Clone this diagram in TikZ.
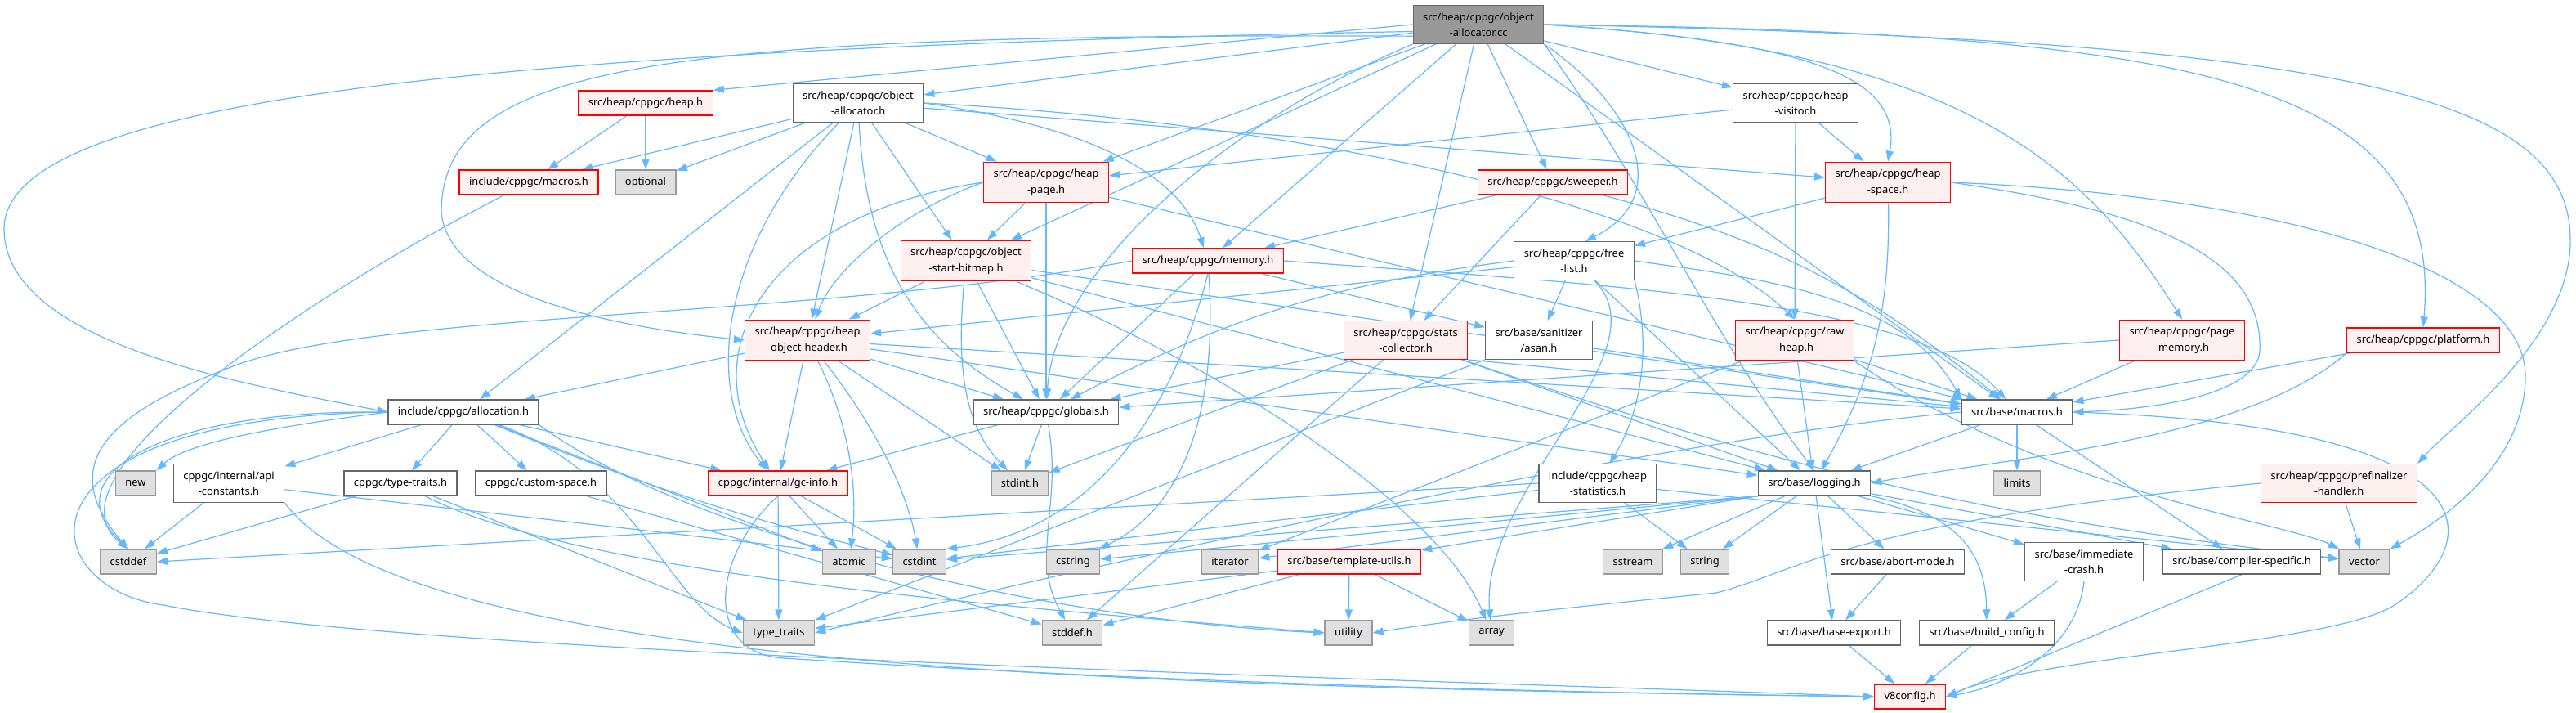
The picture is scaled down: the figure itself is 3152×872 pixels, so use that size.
\documentclass[tikz,border=0pt]{standalone}
\usepackage{fontspec}
\setmainfont{Noto Sans}
\usetikzlibrary{arrows.meta, backgrounds}
\definecolor{depblue}{RGB}{99,184,255}
\definecolor{hdrred}{RGB}{255,0,0}
\definecolor{hdrpink}{RGB}{255,240,240}
\definecolor{hdrgrey}{RGB}{153,153,153}
\definecolor{hdrdark}{RGB}{102,102,102}
\definecolor{sysfill}{RGB}{224,224,224}
\tikzset{
  file/.style={rectangle, draw=hdrdark, fill=white, line width=0.65pt,
    inner xsep=6pt, inner ysep=4.3pt, minimum height=15pt, align=center,
    font=\fontsize{6.45}{9.7}\selectfont},
  mainfile/.style={file, draw=hdrdark, fill=hdrgrey},
  redfile/.style={file, draw=hdrred, fill=hdrpink},
  sysfile/.style={file, draw=hdrgrey, fill=sysfill},
  dep/.style={-{Triangle[length=6.5pt, width=4.5pt]}, draw=depblue, line width=0.6pt}
}

\begin{document}
\begin{tikzpicture}[x=0.5pt, y=-0.5pt]
  \useasboundingbox (0,0) rectangle (3152,872);

  \node[mainfile] (cc) at (1809,30) {src/heap/cppgc/object\\-allocator.cc};
  \node[redfile] (heapH) at (790,126) {src/heap/cppgc/heap.h};
  \node[file] (objallocH) at (1050,126) {src/heap/cppgc/object\\-allocator.h};
  \node[file] (heapvisitor) at (2197,126) {src/heap/cppgc/heap\\-visitor.h};
  \node[redfile] (incmacros) at (647,223) {include/cppgc/macros.h};
  \node[sysfile] (optional) at (790,223) {optional};
  \node[redfile] (heappage) at (1280,223) {src/heap/cppgc/heap\\-page.h};
  \node[redfile] (sweeper) at (1900,223) {src/heap/cppgc/sweeper.h};
  \node[redfile] (heapspace) at (2310,223) {src/heap/cppgc/heap\\-space.h};
  \node[redfile] (osb) at (1182,319) {src/heap/cppgc/object\\-start-bitmap.h};
  \node[redfile] (memory) at (1478,319) {src/heap/cppgc/memory.h};
  \node[file] (freelist) at (1926,319) {src/heap/cppgc/free\\-list.h};
  \node[redfile] (hohdr) at (988,416) {src/heap/cppgc/heap\\-object-header.h};
  \node[redfile] (stats) at (1720,416) {src/heap/cppgc/stats\\-collector.h};
  \node[file] (asan) at (1883,416) {src/base/sanitizer\\/asan.h};
  \node[redfile] (rawheap) at (2196,416) {src/heap/cppgc/raw\\-heap.h};
  \node[redfile] (pagememory) at (2670,416) {src/heap/cppgc/page\\-memory.h};
  \node[redfile] (platform) at (2965,416) {src/heap/cppgc/platform.h};
  \node[file] (allocation) at (567,504) {include/cppgc/allocation.h};
  \node[file] (globals) at (1280,504) {src/heap/cppgc/globals.h};
  \node[file] (basemacros) at (2468,504) {src/base/macros.h};
  \node[sysfile] (new) at (166,591) {new};
  \node[file] (apiconst) at (280,591) {cppgc/internal/api\\-constants.h};
  \node[file] (cppgctraits) at (490,591) {cppgc/type-traits.h};
  \node[file] (customspace) at (662,591) {cppgc/custom-space.h};
  \node[redfile] (gcinfo) at (952,591) {cppgc/internal/gc-info.h};
  \node[sysfile] (stdint) at (1248,591) {stdint.h};
  \node[file] (heapstats) at (1955,591) {include/cppgc/heap\\-statistics.h};
  \node[file] (logging) at (2220,591) {src/base/logging.h};
  \node[sysfile] (limits) at (2468,591) {limits};
  \node[redfile] (prefinalizer) at (2862,591) {src/heap/cppgc/prefinalizer\\-handler.h};
  \node[sysfile] (cstddef) at (157,687) {cstddef};
  \node[sysfile] (atomic) at (1039,687) {atomic};
  \node[sysfile] (cstdint) at (1125,687) {cstdint};
  \node[sysfile] (cstring) at (1313,687) {cstring};
  \node[sysfile] (iterator) at (1505,687) {iterator};
  \node[redfile] (tmplutils) at (1651,687) {src/base/template-utils.h};
  \node[sysfile] (sstream) at (1998,687) {sstream};
  \node[sysfile] (string) at (2086,687) {string};
  \node[file] (abortmode) at (2322,687) {src/base/abort-mode.h};
  \node[file] (immcrash) at (2550,687) {src/base/immediate\\-crash.h};
  \node[file] (compspec) at (2743,687) {src/base/compiler-specific.h};
  \node[sysfile] (vector) at (2893,687) {vector};
  \node[sysfile] (typetraits) at (953,774) {type\_traits};
  \node[sysfile] (stddefh) at (1312,774) {stddef.h};
  \node[sysfile] (utility) at (1650,774) {utility};
  \node[sysfile] (array) at (1825,774) {array};
  \node[file] (baseexport) at (2244,774) {src/base/base-export.h};
  \node[file] (buildconfig) at (2431,774) {src/base/build\_config.h};
  \node[redfile] (v8config) at (2337,852) {v8config.h};

  \begin{scope}[on background layer]
    \fill[white] (0,0) rectangle (3152,872);
    % object-allocator.cc
    \draw[dep] (cc.west) -- (heapH.north east);
    \draw[dep] (cc) -- (objallocH);
    \draw[dep] (cc.186) .. controls (600,60) and (5,120) .. (5,280)
      .. controls (5,420) and (300,470) .. (allocation.west);
    \draw[dep] (cc.190) .. controls (800,40) and (540,80) .. (540,260)
      .. controls (550,360) and (750,400) .. (hohdr.west);
    \draw[dep] (cc) -- (heappage);
    \draw[dep] (cc) -- (osb);
    \draw[dep] (cc) -- (memory);
    \draw[dep] (cc.south west) .. controls (1500,150) and (1290,330) .. (globals);
    \draw[dep] (cc) -- (stats);
    \draw[dep] (cc) -- (sweeper);
    \draw[dep] (cc.south east) .. controls (2000,130) and (2050,240) .. (freelist.60);
    \draw[dep] (cc.south east) .. controls (2010,220) and (2100,420) .. (logging.north);
    \draw[dep] (cc) -- (heapvisitor);
    \draw[dep] (cc.east) .. controls (2200,50) and (2330,90) .. (heapspace.north);
    \draw[dep] (cc.east) .. controls (2400,60) and (2550,200) .. (pagememory.north);
    \draw[dep] (cc.east) .. controls (2700,40) and (2990,100) .. (platform.north);
    \draw[dep] (cc.east) .. controls (2900,50) and (3150,120) .. (3145,300)
      .. controls (3140,420) and (3000,520) .. (prefinalizer.north east);
    \draw[dep] (cc) -- (basemacros);
    % heap.h, object-allocator.h
    \draw[dep] (heapH) -- (incmacros);
    \draw[dep] (heapH) -- (optional);
    \draw[dep] (objallocH) -- (incmacros);
    \draw[dep] (objallocH) -- (optional);
    \draw[dep] (objallocH) -- (allocation);
    \draw[dep] (objallocH) .. controls (880,300) and (860,480) .. (gcinfo);
    \draw[dep] (objallocH) -- (hohdr);
    \draw[dep] (objallocH) -- (osb);
    \draw[dep] (objallocH) -- (heappage);
    \draw[dep] (objallocH.east) .. controls (1300,150) and (1440,200) .. (memory);
    \draw[dep] (objallocH) .. controls (1060,330) and (1130,420) .. (globals);
    \draw[dep] (objallocH) -- (heapspace);
    \draw[dep] (objallocH.east) .. controls (1600,150) and (2050,250) .. (rawheap.north);
    \draw[dep] (incmacros) .. controls (400,350) and (40,580) .. (cstddef.north);
    % heap-page.h, object-start-bitmap.h
    \draw[dep] (heappage) -- (osb);
    \draw[dep] (heappage.west) .. controls (1100,260) and (1020,330) .. (hohdr);
    \draw[dep] (heappage) -- (globals);
    \draw[dep] (heappage) -- (basemacros);
    \draw[dep] (heappage.west) .. controls (950,260) and (840,420) .. (gcinfo);
    \draw[dep] (osb) -- (hohdr);
    \draw[dep] (osb) .. controls (1170,450) and (1180,520) .. (stdint);
    \draw[dep] (osb) -- (globals);
    \draw[dep] (osb) .. controls (1500,450) and (1760,620) .. (array);
    \draw[dep] (osb) -- (basemacros);
    \draw[dep] (osb) -- (logging);
    % memory.h
    \draw[dep] (memory.west) .. controls (1000,390) and (450,380) .. (280,450)
      .. controls (150,500) and (60,560) .. (cstddef.north);
    \draw[dep] (memory.south) .. controls (1430,520) and (1330,650) .. (cstdint.north east);
    \draw[dep] (memory) .. controls (1490,500) and (1450,620) .. (cstring);
    \draw[dep] (memory) -- (globals);
    \draw[dep] (memory.east) .. controls (2000,350) and (2350,370) .. (basemacros);
    \draw[dep] (memory) -- (asan);
    % heap-object-header.h
    \draw[dep] (hohdr) -- (allocation);
    \draw[dep] (hohdr) -- (gcinfo);
    \draw[dep] (hohdr) .. controls (1040,520) and (1050,600) .. (atomic);
    \draw[dep] (hohdr) .. controls (1070,520) and (1110,600) .. (cstdint);
    \draw[dep] (hohdr) -- (stdint);
    \draw[dep] (hohdr) -- (globals);
    \draw[dep] (hohdr) -- (logging);
    \draw[dep] (hohdr) -- (basemacros);
    % sweeper.h, heap-visitor.h, heap-space.h
    \draw[dep] (sweeper) -- (memory);
    \draw[dep] (sweeper) -- (stats);
    \draw[dep] (sweeper) to[bend left=12] (basemacros);
    \draw[dep] (heapvisitor) -- (heappage);
    \draw[dep] (heapvisitor) -- (heapspace);
    \draw[dep] (heapvisitor) -- (rawheap);
    \draw[dep] (heapspace) -- (freelist);
    \draw[dep] (heapspace.east) .. controls (2650,260) and (2770,320) .. (2765,430)
      .. controls (2760,480) and (2650,500) .. (basemacros.east);
    \draw[dep] (heapspace) to[bend left=15] (logging);
    \draw[dep] (heapspace.east) .. controls (2800,240) and (3090,330) .. (3090,460)
      .. controls (3090,560) and (3000,630) .. (vector.north east);
    % free-list.h
    \draw[dep] (freelist) -- (hohdr);
    \draw[dep] (freelist.west) to[bend right=10] (globals);
    \draw[dep] (freelist) -- (asan);
    \draw[dep] (freelist.south east) .. controls (2020,420) and (2010,500) .. (heapstats);
    \draw[dep] (freelist) .. controls (2040,430) and (1810,600) .. (array);
    \draw[dep] (freelist.east) .. controls (2150,340) and (2330,360) .. (basemacros.north west);
    \draw[dep] (freelist) -- (logging);
    % stats-collector.h, asan.h, raw-heap.h
    \draw[dep] (stats) -- (globals);
    \draw[dep] (stats) -- (logging);
    \draw[dep] (stats.south east) -- (basemacros);
    \draw[dep] (stats) -- (stddefh);
    \draw[dep] (stats) -- (stdint);
    \draw[dep] (stats) to[bend right=6] (vector);
    \draw[dep] (asan) -- (basemacros);
    \draw[dep] (asan.south west) -- (typetraits.north east);
    \draw[dep] (rawheap) -- (logging);
    \draw[dep] (rawheap) -- (basemacros);
    \draw[dep] (rawheap.south east) .. controls (2500,600) and (2800,640) .. (vector);
    \draw[dep] (rawheap) -- (iterator);
    % page-memory.h, platform.h, prefinalizer-handler.h
    \draw[dep] (pagememory.west) -- (globals);
    \draw[dep] (pagememory) -- (basemacros);
    \draw[dep] (platform) -- (basemacros);
    \draw[dep] (platform.south west) .. controls (2750,540) and (2450,560) .. (logging.east);
    \draw[dep] (prefinalizer) -- (vector);
    \draw[dep] (prefinalizer.west) .. controls (2250,640) and (2200,700) .. (2100,725)
      .. controls (1950,740) and (1800,755) .. (utility.east);
    % include/cppgc/allocation.h
    \draw[dep] (allocation.west) .. controls (350,520) and (230,540) .. (new.north east);
    \draw[dep] (allocation) -- (apiconst);
    \draw[dep] (allocation) -- (cppgctraits);
    \draw[dep] (allocation) -- (customspace);
    \draw[dep] (allocation) -- (gcinfo);
    \draw[dep] (allocation.west) .. controls (200,500) and (60,580) .. (cstddef.north);
    \draw[dep] (allocation) -- (atomic);
    \draw[dep] (allocation) to[bend right=4] (cstdint);
    \draw[dep] (allocation) .. controls (780,580) and (820,740) .. (typetraits.west);
    \draw[dep] (allocation.south east) .. controls (850,660) and (1300,760) .. (utility.west);
    \draw[dep] (allocation.west) .. controls (0,510) and (40,720) .. (200,740)
      .. controls (500,800) and (1700,830) .. (v8config.west);
    % cppgc headers
    \draw[dep] (apiconst) -- (cstddef);
    \draw[dep] (apiconst) -- (cstdint);
    \draw[dep] (apiconst.south east) .. controls (500,820) and (1400,840) .. (v8config.west);
    \draw[dep] (cppgctraits) -- (cstddef);
    \draw[dep] (cppgctraits) -- (typetraits);
    \draw[dep] (cppgctraits) .. controls (700,700) and (1200,740) .. (utility.west);
    \draw[dep] (customspace) -- (stddefh);
    \draw[dep] (gcinfo) -- (atomic);
    \draw[dep] (gcinfo) -- (cstdint);
    \draw[dep] (gcinfo) -- (typetraits);
    \draw[dep] (gcinfo.south) .. controls (870,680) and (860,800) .. (960,805)
      .. controls (1500,840) and (2000,848) .. (v8config.west);
    \draw[dep] (globals) -- (gcinfo);
    \draw[dep] (globals) -- (stdint);
    \draw[dep] (globals) .. controls (1300,620) and (1260,680) .. (stddefh);
    % heap-statistics.h, logging.h
    \draw[dep] (heapstats.west) -- (cstddef.east);
    \draw[dep] (heapstats) -- (cstdint);
    \draw[dep] (heapstats) -- (string);
    \draw[dep] (heapstats) -- (vector);
    \draw[dep] (logging.south west) -- (cstdint);
    \draw[dep] (logging.south west) -- (cstring);
    \draw[dep] (logging.south west) -- (iterator);
    \draw[dep] (logging) -- (sstream);
    \draw[dep] (logging) -- (string);
    \draw[dep] (logging.south west) -- (tmplutils);
    \draw[dep] (logging) -- (abortmode);
    \draw[dep] (logging) -- (baseexport);
    \draw[dep] (logging.south east) .. controls (2400,630) and (2430,680) .. (buildconfig);
    \draw[dep] (logging) -- (immcrash);
    \draw[dep] (logging) -- (compspec);
    % src/base
    \draw[dep] (basemacros) -- (limits);
    \draw[dep] (basemacros) -- (compspec);
    \draw[dep] (basemacros) -- (logging);
    \draw[dep] (basemacros.west) .. controls (2000,540) and (1300,700) .. (typetraits.east);
    \draw[dep] (basemacros.east) .. controls (3050,520) and (3050,660) .. (2930,740)
      .. controls (2850,790) and (2500,800) .. (v8config.east);
    \draw[dep] (tmplutils) -- (typetraits);
    \draw[dep] (tmplutils) -- (utility);
    \draw[dep] (tmplutils) -- (array);
    \draw[dep] (tmplutils) -- (stddefh);
    \draw[dep] (abortmode) -- (baseexport);
    \draw[dep] (immcrash) -- (buildconfig);
    \draw[dep] (immcrash.south) .. controls (2540,800) and (2450,840) .. (v8config.east);
    \draw[dep] (compspec.south) -- (v8config.east);
    \draw[dep] (baseexport) -- (v8config);
    \draw[dep] (buildconfig) -- (v8config);
  \end{scope}
\end{tikzpicture}
\end{document}
